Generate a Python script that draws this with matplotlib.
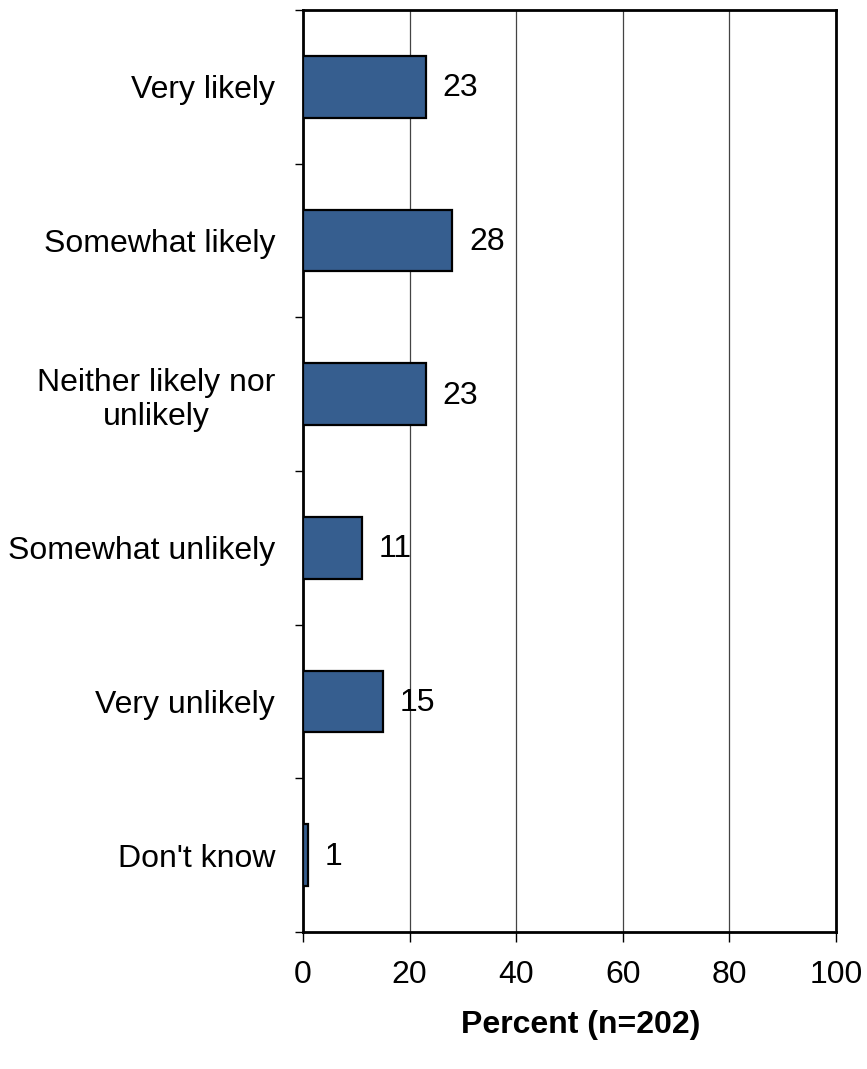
import matplotlib
matplotlib.use("Agg")
import matplotlib.pyplot as plt
from matplotlib.ticker import FixedLocator

plt.rcParams['font.family'] = ['Liberation Sans', 'DejaVu Sans']

categories = ["Very likely", "Somewhat likely", "Neither likely nor\nunlikely",
              "Somewhat unlikely", "Very unlikely", "Don't know"]
percent = [23, 28, 23, 11, 15, 1]
x_ticks = [0, 20, 40, 60, 80, 100]
x_label = "Percent (n=202)"

bar_color = "#365E8F"
fs = 23

fig = plt.figure(figsize=(8.67, 10.69), dpi=100)
ax = fig.add_axes([303 / 867, 1 - 932 / 1069, (836 - 303) / 867, (932 - 10) / 1069])

pos = list(range(len(categories)))
ax.barh(pos, percent, height=0.4, color=bar_color, edgecolor="black", linewidth=1.6, zorder=3)

for p, v in zip(pos, percent):
    ax.annotate(str(v), xy=(v, p), xytext=(12, -1), textcoords="offset points",
                ha="left", va="center", fontsize=fs, zorder=4)

ax.set_xlim(0, 100)
ax.set_ylim(len(categories) - 0.5, -0.5)

ax.set_xticks(x_ticks)
ax.set_xticklabels([str(t) for t in x_ticks], fontsize=fs)
ax.tick_params(axis="x", which="major", direction="out", length=7, width=1, pad=13)

ax.set_yticks(pos)
ax.set_yticklabels(categories, fontsize=fs, multialignment="center")
ax.tick_params(axis="y", which="major", length=0, pad=20)
ax.yaxis.set_minor_locator(FixedLocator([i - 0.5 for i in range(len(categories) + 1)]))
ax.tick_params(axis="y", which="minor", direction="out", length=6, width=1)

ax.xaxis.grid(True, color="#444444", linewidth=0.9, zorder=0)
ax.set_axisbelow(True)

for s in ax.spines.values():
    s.set_linewidth(2)
    s.set_color("black")

fig.text(581 / 867, 1 - 1025 / 1069, x_label, ha="center", va="center",
         fontsize=fs, fontweight="bold")

fig.savefig("out.png", dpi=100)
